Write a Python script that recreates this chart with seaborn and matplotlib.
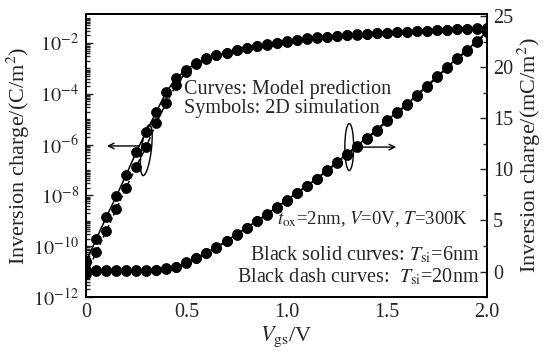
import numpy as np
import matplotlib
matplotlib.use("Agg")
import matplotlib.pyplot as plt
from matplotlib.patches import Ellipse
from matplotlib.ticker import LogLocator, MultipleLocator, FixedLocator, NullFormatter
import seaborn as sns

# ── Data ──────────────────────────────────────────────────────────────────────
vgs = [0.00, 0.05, 0.10, 0.15, 0.20, 0.25, 0.30, 0.35, 0.40, 0.45,
       0.50, 0.55, 0.60, 0.65, 0.70, 0.75, 0.80, 0.85, 0.90, 0.95,
       1.00, 1.05, 1.10, 1.15, 1.20, 1.25, 1.30, 1.35, 1.40, 1.45,
       1.50, 1.55, 1.60, 1.65, 1.70, 1.75, 1.80, 1.85, 1.90, 1.95, 2.00]

# log10 of inversion charge (C/m^2), left axis
log_q_6nm = [-10.59, -9.73, -8.86, -8.04, -7.18, -6.29, -5.49, -4.71, -3.92, -3.37,
             -3.06, -2.78, -2.60, -2.47, -2.38, -2.28, -2.20, -2.12, -2.05, -2.00,
             -1.93, -1.88, -1.82, -1.78, -1.75, -1.72, -1.69, -1.66, -1.63, -1.61,
             -1.59, -1.57, -1.55, -1.53, -1.51, -1.49, -1.47, -1.45, -1.44, -1.42, -1.40]
log_q_20nm = [-11.10, -10.24, -9.41, -8.55, -7.69, -6.86, -6.08, -5.14, -4.35, -3.65,
              -3.14, -2.82, -2.62, -2.48, -2.39, -2.29, -2.21, -2.13, -2.06, -2.01,
              -1.94, -1.89, -1.83, -1.79, -1.76, -1.73, -1.70, -1.67, -1.64, -1.62,
              -1.60, -1.58, -1.56, -1.54, -1.52, -1.50, -1.48, -1.46, -1.45, -1.43, -1.41]

# inversion charge (mC/m^2), right axis
q_lin_6nm = [0.15, 0.15, 0.15, 0.15, 0.15, 0.15, 0.15, 0.20, 0.30, 0.45,
             0.90, 1.35, 1.85, 2.40, 3.00, 3.65, 4.30, 4.95, 5.60, 6.30,
             7.00, 7.70, 8.40, 9.10, 9.90, 10.7, 11.5, 12.3, 13.1, 13.9,
             14.8, 15.6, 16.4, 17.3, 18.2, 19.1, 20.0, 20.9, 21.7, 22.6, 23.5]
q_lin_20nm = [0.10, 0.10, 0.10, 0.10, 0.10, 0.10, 0.10, 0.15, 0.25, 0.40,
              0.85, 1.30, 1.80, 2.35, 2.95, 3.60, 4.25, 4.90, 5.55, 6.25,
              6.95, 7.65, 8.35, 9.05, 9.85, 10.6, 11.4, 12.2, 13.0, 13.8,
              14.7, 15.5, 16.3, 17.2, 18.1, 19.0, 19.9, 20.8, 21.6, 22.5, 23.4]

q_log_6nm = 10.0 ** np.array(log_q_6nm)
q_log_20nm = 10.0 ** np.array(log_q_20nm)

# ── Style ─────────────────────────────────────────────────────────────────────
sns.set_style("white")
plt.rcParams["font.family"] = ["Liberation Serif", "DejaVu Serif"]
plt.rcParams["mathtext.fontset"] = "stix"
FS_TICK = 14.5
FS_LABEL = 16
FS_TEXT = 14.5

fig = plt.figure(figsize=(5.45, 3.52), dpi=100)
ax1 = fig.add_axes([0.158, 0.156, 0.736, 0.804])
ax2 = ax1.twinx()

line_kw = dict(color="black", marker="o", markersize=7.2, markeredgecolor="black",
               markeredgewidth=0.5, linewidth=1.1)

sns.lineplot(x=vgs, y=q_log_6nm, ax=ax1, **line_kw)
sns.lineplot(x=vgs, y=q_log_20nm, ax=ax1, linestyle="--", **line_kw)
sns.lineplot(x=vgs, y=q_lin_6nm, ax=ax2, **line_kw)
sns.lineplot(x=vgs, y=q_lin_20nm, ax=ax2, linestyle="--", **line_kw)

# ── Axes ──────────────────────────────────────────────────────────────────────
ax1.set_yscale("log")
ax1.set_xlim(0, 2.0)
ax1.set_ylim(1e-12, 10 ** -0.86)
ax2.set_ylim(-2.5, 25.2)

ax1.xaxis.set_major_locator(FixedLocator([0, 0.5, 1.0, 1.5, 2.0]))
ax1.set_xticklabels(["0", "0.5", "1.0", "1.5", "2.0"])
ax1.xaxis.set_minor_locator(MultipleLocator(0.25))
ax1.set_yticks([1e-12, 1e-10, 1e-8, 1e-6, 1e-4, 1e-2])
ax1.set_yticklabels([r"$10^{-12}$", r"$10^{-10}$", r"$10^{-8}$",
                     r"$10^{-6}$", r"$10^{-4}$", r"$10^{-2}$"])
ax1.yaxis.set_minor_locator(LogLocator(base=10, subs=np.arange(1, 10), numticks=40))
ax1.yaxis.set_minor_formatter(NullFormatter())

ax2.yaxis.set_major_locator(MultipleLocator(5))
ax2.yaxis.set_minor_locator(MultipleLocator(2.5))

for ax in (ax1, ax2):
    ax.tick_params(which="both", direction="in", labelsize=FS_TICK, width=1.0)
    ax.tick_params(which="major", length=5)
    ax.tick_params(which="minor", length=3)
    for sp in ax.spines.values():
        sp.set_linewidth(1.3)
        sp.set_color("black")
ax1.tick_params(axis="x", top=False, pad=4)
ax1.tick_params(axis="y", right=False, pad=5)
ax2.tick_params(axis="y", left=False, pad=4)

ax1.set_xlabel(r"$V_{\mathrm{gs}}$/V", fontsize=FS_LABEL, labelpad=2)
ax1.set_ylabel(r"Inversion charge/(C/m$^2$)", fontsize=FS_LABEL, labelpad=1)
ax2.set_ylabel(r"Inversion charge/(mC/m$^2$)", fontsize=FS_LABEL, labelpad=2)

# ── Annotations ───────────────────────────────────────────────────────────────
ax1.text(0.243, 0.735, "Curves: Model prediction", transform=ax1.transAxes,
         fontsize=FS_TEXT, va="center", ha="left")
ax1.text(0.243, 0.668, "Symbols: 2D simulation", transform=ax1.transAxes,
         fontsize=FS_TEXT, va="center", ha="left")
ax1.text(0.475, 0.275, r"$t_{\mathrm{ox}}$=2nm, $V$=0V, $T$=300K", transform=ax1.transAxes,
         fontsize=13.5, va="center", ha="left")
ax1.text(0.98, 0.150, r"Black solid curves: $T_{\mathrm{si}}$=6nm", transform=ax1.transAxes,
         fontsize=FS_TEXT, va="center", ha="right")
ax1.text(0.98, 0.070, r"Black dash curves:  $T_{\mathrm{si}}$=20nm", transform=ax1.transAxes,
         fontsize=FS_TEXT, va="center", ha="right")

ax1.add_patch(Ellipse((0.150, 0.519), 0.025, 0.18, transform=ax1.transAxes,
                      fill=False, edgecolor="black", linewidth=1.0, angle=-5))
ax1.annotate("", xy=(0.045, 0.534), xytext=(0.138, 0.534), xycoords="axes fraction",
             arrowprops=dict(arrowstyle="->", color="black", lw=1.0))
ax1.add_patch(Ellipse((0.656, 0.530), 0.022, 0.166, transform=ax1.transAxes,
                      fill=False, edgecolor="black", linewidth=1.0))
ax1.annotate("", xy=(0.78, 0.530), xytext=(0.666, 0.530), xycoords="axes fraction",
             arrowprops=dict(arrowstyle="->", color="black", lw=1.0))

fig.savefig("out.png", dpi=100)
